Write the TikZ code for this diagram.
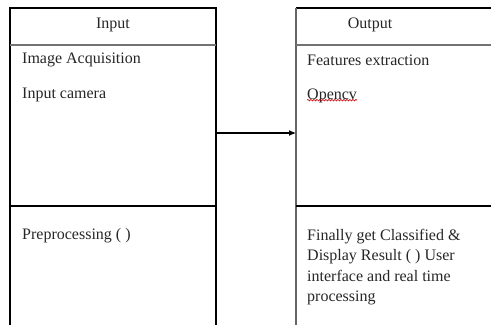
\documentclass[tikz,border=0pt]{standalone}
\usepackage{fontspec}
\setmainfont{Liberation Serif}
\usetikzlibrary{arrows.meta,decorations.pathmorphing}
\begin{document}
\begin{tikzpicture}[x=1pt,y=-1pt,
  boxline/.style={draw=black,line width=1.1pt},
  headline/.style={draw=black!55,line width=1.3pt},
  txt/.style={inner sep=0pt,anchor=west,text=black!85,font=\fontsize{16}{20.5}\selectfont},
  hdr/.style={inner sep=0pt,text=black!85,font=\fontsize{16}{20.5}\selectfont},
  link/.style={draw=black,line width=1.1pt,-{Latex[length=7pt,width=6pt]}}]
\useasboundingbox (0,0) rectangle (491,325);
% left box
\coordinate (L1) at (10,8);
\coordinate (L2) at (216,8);
\coordinate (L3) at (10,325);
\coordinate (L4) at (216,325);
\draw[boxline] (L3) -- (L1) -- (L2) -- (L4);
\draw[headline] (10,45) -- (216,45);
\draw[boxline] (10,206) -- (216,206);
% right box
\coordinate (R1) at (296,8);
\coordinate (R2) at (491,8);
\coordinate (R3) at (296,325);
\draw[boxline] (R2) -- (R1);
\draw[draw=black!60,line width=1.3pt] (R1) -- (R3);
\draw[headline] (296,45) -- (491,45);
\draw[boxline] (296,206) -- (491,206);
% texts
\node[hdr] (inh) at (113,25) {Input};
\node[hdr] (outh) at (370,25) {Output};
\node[txt] (ia) at (22,60) {Image Acquisition};
\node[txt] (ic) at (22,95) {Input camera};
\node[txt] (pp) at (22,236) {Preprocessing ( )};
\node[txt] (fe) at (307,60) {Features extraction};
\node[txt] (oc) at (307,96) {Opencv};
\draw[red!80!black,line width=0.6pt,decorate,decoration={snake,amplitude=0.8pt,segment length=3pt}]
  ([yshift=3pt]oc.south west) -- ([yshift=3pt]oc.south east);
\node[txt,anchor=north west,align=left] (fr) at (307,229)
  {Finally get Classified \&\\Display Result ( ) User\\interface and real time\\processing};
% arrow
\coordinate (a1) at (216,133);
\coordinate (a2) at (296,133);
\draw[link] (a1) -- (a2);
\end{tikzpicture}
\end{document}
